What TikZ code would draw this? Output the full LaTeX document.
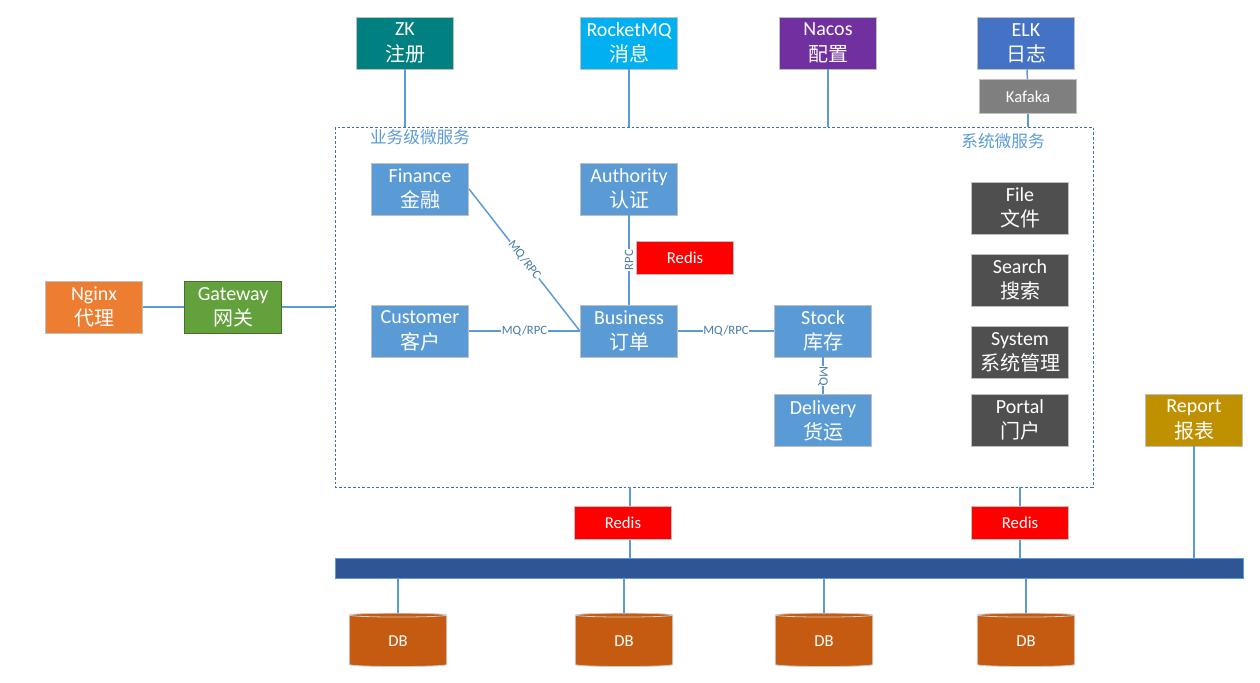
\documentclass[tikz,border=0pt]{standalone}
\usepackage{fontspec}
\setmainfont{Carlito}
\newfontfamily\cjk{Noto Sans CJK SC}
\usetikzlibrary{positioning,shapes.geometric}

\definecolor{zkteal}{RGB}{0,128,128}
\definecolor{mqcyan}{RGB}{0,176,240}
\definecolor{nacospurple}{RGB}{112,48,160}
\definecolor{elkblue}{RGB}{68,114,196}
\definecolor{kafkagray}{RGB}{127,127,127}
\definecolor{svcblue}{RGB}{91,155,213}
\definecolor{sysgray}{RGB}{79,79,79}
\definecolor{nginxorange}{RGB}{237,125,49}
\definecolor{gwgreen}{RGB}{98,161,59}
\definecolor{reportgold}{RGB}{191,144,0}
\definecolor{busblue}{RGB}{47,85,151}
\definecolor{dborange}{RGB}{197,90,17}
\definecolor{linkblue}{RGB}{91,155,213}
\definecolor{areablue}{RGB}{65,113,170}

\tikzset{
  box/.style={draw=black!25, line width=0.6pt, text=white, align=center,
    minimum width=73pt, minimum height=39pt, inner sep=0pt,
    font=\fontsize{15}{19}\selectfont},
  smallbox/.style={draw=black!25, line width=0.6pt, text=white,
    minimum width=73pt, minimum height=25pt, inner sep=0pt,
    font=\fontsize{12.5}{15}\selectfont},
  link/.style={draw=linkblue, line width=1.1pt},
  tag/.style={fill=white, inner sep=0.5pt, text=linkblue!80!black,
    font=\fontsize{9.5}{11}\selectfont},
  db/.style={cylinder, shape border rotate=90, aspect=0.2, draw=black!20,
    line width=0.6pt, fill=dborange, text=white, minimum width=73pt,
    minimum height=40pt, inner sep=0pt, font=\fontsize{12.5}{15}\selectfont}
}

\begin{document}
\begin{tikzpicture}[x=0.75pt,y=-0.75pt]
  \useasboundingbox (0,0) rectangle (1260,682);

  % outer services
  \node[box, fill=zkteal] (zk) at (405,43) {ZK\\{\cjk 注册}};
  \node[box, fill=mqcyan] (mq) at (629,43) {RocketMQ\\{\cjk 消息}};
  \node[box, fill=nacospurple] (nacos) at (828,43) {Nacos\\{\cjk 配置}};
  \node[box, fill=elkblue] (elk) at (1026,43) {ELK\\{\cjk 日志}};
  \node[smallbox, fill=kafkagray, below=7.5pt of elk.south east, anchor=north east, xshift=1.5pt] (kafka) {Kafaka};

  % micro service area
  \draw[areablue, dash pattern=on 2pt off 1.5pt, line width=0.6pt] (335,127) rectangle (1093,487);
  \coordinate (area) at (335,307);
  \node[text=svcblue, font=\cjk\fontsize{12.5}{15}\selectfont] (bizlabel) at (420,137) {业务级微服务};
  \node[text=svcblue, font=\cjk\fontsize{12.5}{15}\selectfont] (syslabel) at (1003,141) {系统微服务};

  \node[box, fill=svcblue] (finance) at (420,189) {Finance\\{\cjk 金融}};
  \node[box, fill=svcblue] (auth) at (629,189) {Authority\\{\cjk 认证}};
  \node[smallbox, fill=red] (redis) at (685,258) {Redis};
  \node[box, fill=svcblue] (customer) at (420,331) {Customer\\{\cjk 客户}};
  \node[box, fill=svcblue] (business) at (629,331) {Business\\{\cjk 订单}};
  \node[box, fill=svcblue] (stock) at (823,331) {Stock\\{\cjk 库存}};
  \node[box, fill=svcblue, below=27.75pt of stock] (delivery) {Delivery\\{\cjk 货运}};

  \node[box, fill=sysgray] (file) at (1020,208) {File\\{\cjk 文件}};
  \node[box, fill=sysgray] (search) at (1020,280) {Search\\{\cjk 搜索}};
  \node[box, fill=sysgray] (system) at (1020,352) {System\\{\cjk 系统管理}};
  \node[box, fill=sysgray] (portal) at (1020,420) {Portal\\{\cjk 门户}};

  % entry
  \node[box, fill=nginxorange] (nginx) at (94,307) {Nginx\\{\cjk 代理}};
  \node[box, fill=gwgreen, draw=gwgreen!70!black, right=30.75pt of nginx] (gateway) {Gateway\\{\cjk 网关}};
  \node[box, fill=reportgold] (report) at (1194,420) {Report\\{\cjk 报表}};

  % cache, bus and storage
  \node[smallbox, fill=red] (redisa) at (623,523) {Redis};
  \node[smallbox, fill=red] (redisb) at (1020,523) {Redis};
  \node[fill=busblue, draw=linkblue, line width=0.6pt, minimum width=681pt, minimum height=15pt, inner sep=0pt] (bus) at (789,568) {};
  \node[db] (db1) at (398,641) {DB};
  \node[db] (db2) at (624,641) {DB};
  \node[db] (db3) at (824,641) {DB};
  \node[db] (db4) at (1026,641) {DB};

  \coordinate (cachea) at (630,487);
  \coordinate (cacheb) at (1020,487);

  % links
  \draw[link] (zk) -- (zk |- 335,127);
  \draw[link] (mq) -- (mq |- 335,127);
  \draw[link] (nacos) -- (nacos |- 335,127);
  \draw[link] (elk) -- (kafka);
  \draw[link] (kafka.south) -- (kafka.south |- 335,127);
  \draw[link] (nginx) -- (gateway);
  \draw[link] (gateway) -- (area);
  \draw[link] (finance.east) -- node[tag, sloped] {MQ/RPC} (business.west);
  \draw[link] (customer) -- node[tag] {MQ/RPC} (business);
  \draw[link] (business) -- node[tag, rotate=90] {RPC} (auth);
  \draw[link] (business) -- node[tag] {MQ/RPC} (stock);
  \draw[link] (stock) -- node[tag, rotate=-90] {MQ} (delivery);
  \draw[link] (cachea) -- (cachea |- redisa.north);
  \draw[link] (cachea |- redisa.south) -- (cachea |- bus.north);
  \draw[link] (cacheb) -- (redisb);
  \draw[link] (redisb) -- (redisb |- bus.north);
  \draw[link] (report) -- (report |- bus.north);
  \draw[link] (db1.top |- bus.south) -- (db1.top);
  \draw[link] (db2.top |- bus.south) -- (db2.top);
  \draw[link] (db3.top |- bus.south) -- (db3.top);
  \draw[link] (db4.top |- bus.south) -- (db4.top);
\end{tikzpicture}
\end{document}
